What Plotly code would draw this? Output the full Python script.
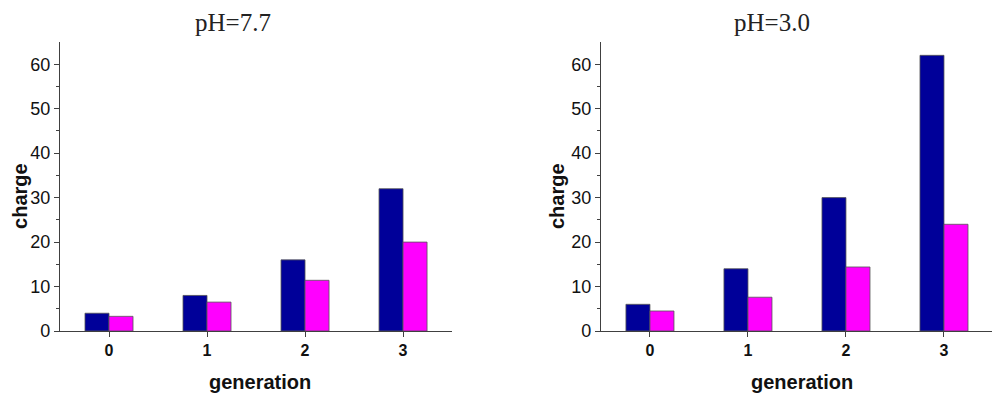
import plotly.graph_objects as go

generations = ["0", "1", "2", "3"]
ph77_blue = [4, 8, 16, 32]
ph77_pink = [3.3, 6.5, 11.4, 20]
ph30_blue = [6, 14, 30, 62]
ph30_pink = [4.5, 7.6, 14.4, 24]
titles = ["pH=7.7", "pH=3.0"]

BLUE = "#000099"
PINK = "#FF00FF"
AX = "#404040"

fig = go.Figure()
for xa, ya, b, p in [("x", "y", ph77_blue, ph77_pink), ("x2", "y2", ph30_blue, ph30_pink)]:
    fig.add_trace(go.Bar(x=generations, y=b, xaxis=xa, yaxis=ya, marker=dict(color=BLUE, line=dict(color="#555555", width=0.8)), showlegend=False))
    fig.add_trace(go.Bar(x=generations, y=p, xaxis=xa, yaxis=ya, marker=dict(color=PINK, line=dict(color="#555555", width=0.8)), showlegend=False))

xcommon = dict(type="category", range=[-0.5, 3.5], showline=True, linecolor=AX, linewidth=1.2,
               ticks="outside", ticklen=5, tickcolor=AX, showgrid=False, zeroline=False,
               tickfont=dict(family="Liberation Sans, Arial", size=16, color="#111111", weight="bold"))
ycommon = dict(range=[0, 65], showline=True, linecolor=AX, linewidth=1.2, ticks="outside", ticklen=5,
               tickcolor=AX, tickvals=[0, 10, 20, 30, 40, 50, 60], showgrid=False, zeroline=False,
               minor=dict(tickvals=[5, 15, 25, 35, 45, 55], ticks="outside", ticklen=3, tickcolor=AX),
               tickfont=dict(family="Liberation Sans, Arial", size=18, color="#111111"))

fig.update_layout(
    width=992, height=391,
    margin=dict(l=52, r=7, t=34, b=68),
    plot_bgcolor="white", paper_bgcolor="white",
    barmode="group", bargap=0.51, bargroupgap=0,
    xaxis=dict(domain=[0, 0.4202], anchor="y", **xcommon),
    yaxis=dict(anchor="x", **ycommon),
    xaxis2=dict(domain=[0.5798, 1], anchor="y2", **xcommon),
    yaxis2=dict(anchor="x2", **ycommon),
)

ann = []
for tx, cx, gx, t in [(0.1849, -0.0430, 0.2144, titles[0]), (0.7626, 0.5327, 0.7953, titles[1])]:
    ann.append(dict(text=t, x=tx, y=1.069, xref="paper", yref="paper", showarrow=False,
                    xanchor="center", yanchor="middle",
                    font=dict(family="Liberation Serif, Times New Roman", size=25, color="#222222")))
    ann.append(dict(text="charge", x=cx, y=0.467, xref="paper", yref="paper", showarrow=False,
                    xanchor="center", yanchor="middle", textangle=-90,
                    font=dict(family="Liberation Sans, Arial", size=20, color="#111111", weight="bold")))
    ann.append(dict(text="generation", x=gx, y=-0.1765, xref="paper", yref="paper", showarrow=False,
                    xanchor="center", yanchor="middle",
                    font=dict(family="Liberation Sans, Arial", size=20, color="#111111", weight="bold")))
fig.update_layout(annotations=ann)

fig.write_html("out.html")
